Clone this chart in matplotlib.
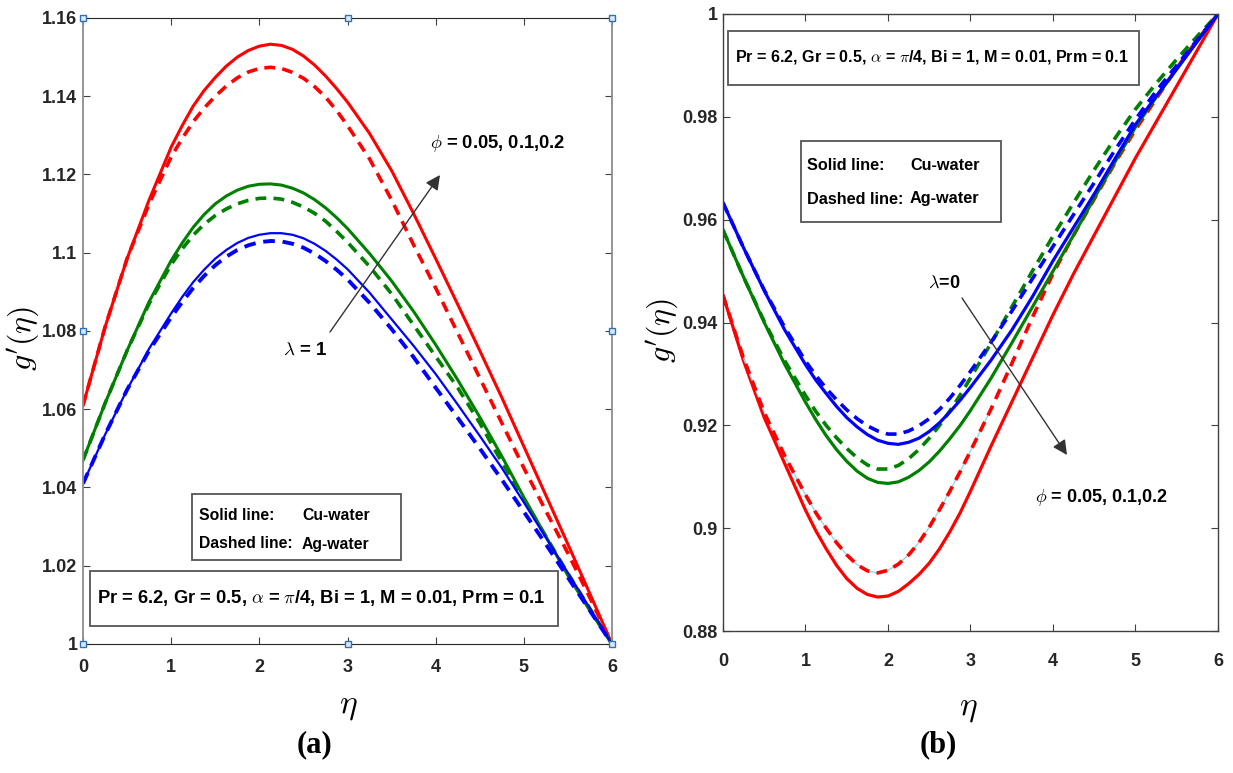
import matplotlib
matplotlib.use("Agg")
import matplotlib.pyplot as plt
from matplotlib.patches import Rectangle

# eta values shared by every curve (finer around the extrema)
eta = [0.0, 0.25, 0.5, 0.75, 1.0, 1.125, 1.25, 1.375, 1.5, 1.625, 1.75, 1.875, 2.0,
       2.125, 2.25, 2.375, 2.5, 2.625, 2.75, 2.875, 3.0, 3.25, 3.5, 3.75, 4.0,
       4.25, 4.5, 4.75, 5.0, 5.25, 5.5, 5.75, 6.0]

# (a) lambda = 1, g'(eta) for phi = 0.05 (blue), 0.1 (green), 0.2 (red)
a_red_cu = [1.061, 1.081, 1.0985, 1.1135, 1.127, 1.1325, 1.1375, 1.1415, 1.1448, 1.1477,
            1.1500, 1.1517, 1.1528, 1.1533, 1.1530, 1.1520, 1.1503, 1.1480, 1.1452,
            1.1420, 1.1385, 1.1305, 1.1210, 1.1100, 1.0985, 1.0868, 1.0750, 1.0630,
            1.0505, 1.0380, 1.0255, 1.0128, 1.0]
a_red_ag = [1.061, 1.081, 1.0985, 1.1125, 1.1245, 1.1292, 1.1335, 1.1370, 1.1400, 1.1426,
            1.1447, 1.1462, 1.1471, 1.1474, 1.1471, 1.1461, 1.1446, 1.1425, 1.1398,
            1.1364, 1.1325, 1.1240, 1.1135, 1.1020, 1.0910, 1.0795, 1.0680, 1.0565,
            1.0450, 1.0340, 1.0232, 1.0118, 1.0]
a_green_cu = [1.047, 1.0615, 1.075, 1.0875, 1.098, 1.1025, 1.1065, 1.1098, 1.1125, 1.1145,
              1.1160, 1.1170, 1.1175, 1.1176, 1.1173, 1.1165, 1.1153, 1.1136, 1.1115,
              1.1090, 1.1062, 1.0998, 1.0928, 1.0850, 1.0765, 1.0675, 1.0580, 1.0480,
              1.0375, 1.0275, 1.0175, 1.0085, 1.0]
a_green_ag = [1.047, 1.0615, 1.075, 1.087, 1.097, 1.1010, 1.1045, 1.1073, 1.1095, 1.1112,
              1.1125, 1.1134, 1.1139, 1.1140, 1.1137, 1.1129, 1.1117, 1.1101, 1.1081,
              1.1055, 1.1027, 1.0965, 1.0895, 1.0815, 1.0735, 1.0655, 1.0565, 1.0465,
              1.0370, 1.0275, 1.0180, 1.0090, 1.0]
a_blue_cu = [1.041, 1.0535, 1.065, 1.0755, 1.0845, 1.0887, 1.0925, 1.0957, 1.0985, 1.1007,
             1.1025, 1.1038, 1.1046, 1.1050, 1.1050, 1.1046, 1.1037, 1.1023, 1.1005,
             1.0983, 1.0958, 1.0898, 1.0830, 1.0762, 1.0690, 1.0612, 1.0532, 1.0450,
             1.0362, 1.0272, 1.0182, 1.0091, 1.0]
a_blue_ag = [1.041, 1.0535, 1.065, 1.075, 1.0835, 1.0874, 1.0910, 1.0941, 1.0968, 1.0990,
             1.1007, 1.1019, 1.1027, 1.1030, 1.1029, 1.1023, 1.1013, 1.0998, 1.0979,
             1.0957, 1.0932, 1.0872, 1.0805, 1.0733, 1.0655, 1.0578, 1.0500, 1.0420,
             1.0338, 1.0255, 1.0170, 1.0085, 1.0]

# (b) lambda = 0
b_red_cu = [0.9453, 0.9325, 0.9215, 0.9125, 0.9035, 0.8995, 0.8960, 0.8928, 0.8902, 0.8883,
            0.8871, 0.8866, 0.8868, 0.8877, 0.8892, 0.8910, 0.8932, 0.8960, 0.8993,
            0.9030, 0.9072, 0.9160, 0.9245, 0.9330, 0.9415, 0.9495, 0.9570, 0.9645,
            0.9720, 0.9790, 0.9860, 0.9930, 1.0]
b_red_ag = [0.9453, 0.9330, 0.9225, 0.9140, 0.9065, 0.9030, 0.9000, 0.8972, 0.8948, 0.8929,
            0.8917, 0.8913, 0.8918, 0.8930, 0.8948, 0.8972, 0.9002, 0.9036, 0.9072,
            0.9110, 0.9150, 0.9232, 0.9320, 0.9410, 0.9495, 0.9570, 0.9640, 0.9710,
            0.9775, 0.9835, 0.9895, 0.9950, 1.0]
b_green_cu = [0.9580, 0.9488, 0.9400, 0.9318, 0.9245, 0.9211, 0.9180, 0.9153, 0.9130, 0.9111,
              0.9097, 0.9089, 0.9087, 0.9090, 0.9099, 0.9112, 0.9129, 0.9150, 0.9174,
              0.9200, 0.9229, 0.9292, 0.9360, 0.9430, 0.9500, 0.9570, 0.9642, 0.9712,
              0.9780, 0.9838, 0.9893, 0.9947, 1.0]
b_green_ag = [0.9580, 0.9488, 0.9402, 0.9325, 0.9258, 0.9227, 0.9200, 0.9176, 0.9155, 0.9137,
              0.9123, 0.9115, 0.9115, 0.9122, 0.9135, 0.9153, 0.9175, 0.9200, 0.9228,
              0.9259, 0.9292, 0.9360, 0.9430, 0.9500, 0.9568, 0.9633, 0.9697, 0.9758,
              0.9815, 0.9865, 0.9912, 0.9957, 1.0]
b_blue_cu = [0.9633, 0.9545, 0.9462, 0.9385, 0.9318, 0.9288, 0.9262, 0.9237, 0.9215, 0.9197,
             0.9182, 0.9171, 0.9165, 0.9163, 0.9167, 0.9175, 0.9188, 0.9205, 0.9226,
             0.9249, 0.9274, 0.9327, 0.9385, 0.9450, 0.9520, 0.9585, 0.9650, 0.9718,
             0.9785, 0.9840, 0.9893, 0.9947, 1.0]
b_blue_ag = [0.9633, 0.9545, 0.9463, 0.9390, 0.9325, 0.9297, 0.9272, 0.9250, 0.9230, 0.9213,
             0.9199, 0.9189, 0.9183, 0.9183, 0.9189, 0.9199, 0.9213, 0.9231, 0.9253,
             0.9278, 0.9305, 0.9362, 0.9422, 0.9485, 0.9548, 0.9610, 0.9672, 0.9735,
             0.9795, 0.9850, 0.9900, 0.9950, 1.0]

x_ticks = [0, 1, 2, 3, 4, 5, 6]
a_yticks = [1.0, 1.02, 1.04, 1.06, 1.08, 1.1, 1.12, 1.14, 1.16]
a_ylabels = ["1", "1.02", "1.04", "1.06", "1.08", "1.1", "1.12", "1.14", "1.16"]
b_yticks = [0.88, 0.9, 0.92, 0.94, 0.96, 0.98, 1.0]
b_ylabels = ["0.88", "0.9", "0.92", "0.94", "0.96", "0.98", "1"]

params_text = (r"Pr = 6.2, Gr = 0.5, $\alpha$ = $\pi$/4, Bi = 1, "
               r"M = 0.01, Prm = 0.1")
phi_text = r"$\phi$ = 0.05, 0.1,0.2"

RED, GREEN, BLUE = "#ff0000", "#008000", "#0000ff"
sans = ["Liberation Sans", "DejaVu Sans"]

plt.rcParams["mathtext.fontset"] = "cm"

W, H = 1233, 773
fig = plt.figure(figsize=(W / 100, H / 100), dpi=100)


def px_axes(x0, y0, x1, y1):
    return fig.add_axes([x0 / W, 1 - y1 / H, (x1 - x0) / W, (y1 - y0) / H])


def style_axes(ax, yticks, ylabels, ylim, xpad):
    ax.set_xlim(0, 6)
    ax.set_ylim(*ylim)
    ax.set_xticks(x_ticks)
    ax.set_xticklabels([str(t) for t in x_ticks])
    ax.set_yticks(yticks)
    ax.set_yticklabels(ylabels)
    ax.tick_params(direction="in", length=5, width=0.8, top=True, right=True,
                   labelsize=13, labelcolor="#262626", color="#404040")
    ax.tick_params(axis="x", pad=xpad)
    ax.tick_params(axis="y", pad=4)
    for lab in ax.get_xticklabels() + ax.get_yticklabels():
        lab.set_family(sans)
        lab.set_fontweight("bold")


def box(ax, x0, y0, x1, y1, x_ax0, x_ax1, y_ax0, y_ax1):
    # rectangle given in figure pixels, drawn in axes fraction
    fx0 = (x0 - x_ax0) / (x_ax1 - x_ax0)
    fx1 = (x1 - x_ax0) / (x_ax1 - x_ax0)
    fy0 = (y_ax1 - y1) / (y_ax1 - y_ax0)
    fy1 = (y_ax1 - y0) / (y_ax1 - y_ax0)
    ax.add_patch(Rectangle((fx0, fy0), fx1 - fx0, fy1 - fy0, transform=ax.transAxes,
                           facecolor="white", edgecolor="#555555", lw=1.3, zorder=5))


def label(ax, px, py, s, bounds, size=11.3):
    x_ax0, x_ax1, y_ax0, y_ax1 = bounds
    ax.text((px - x_ax0) / (x_ax1 - x_ax0), (y_ax1 - py) / (y_ax1 - y_ax0), s,
            transform=ax.transAxes, ha="left", va="center", fontsize=size,
            fontweight="bold", family=sans, zorder=6)


def arrow(ax, tail, head, bounds):
    x_ax0, x_ax1, y_ax0, y_ax1 = bounds
    f = lambda p: ((p[0] - x_ax0) / (x_ax1 - x_ax0), (y_ax1 - p[1]) / (y_ax1 - y_ax0))
    ax.annotate("", xy=f(head), xytext=f(tail), xycoords="axes fraction",
                textcoords="axes fraction",
                arrowprops=dict(arrowstyle="-|>", color="#333333", lw=1.0,
                                mutation_scale=22, shrinkA=0, shrinkB=0), zorder=6)


# ---------------- panel (a) ----------------
A = (83, 612, 18, 644)
ax1 = px_axes(83, 18, 612, 644)
ax1.plot(eta, a_red_cu, color=RED, lw=2.2)
ax1.plot(eta, a_red_ag, color=RED, lw=2.6, ls=(0, (3, 2)))
ax1.plot(eta, a_green_cu, color=GREEN, lw=2.2)
ax1.plot(eta, a_green_ag, color=GREEN, lw=2.6, ls=(0, (3, 2)))
ax1.plot(eta, a_blue_cu, color=BLUE, lw=1.6)
ax1.plot(eta, a_blue_ag, color=BLUE, lw=2.8, ls=(0, (3, 2)))
style_axes(ax1, a_yticks, a_ylabels, (1.0, 1.16), 11)
for side in ("top", "bottom"):
    ax1.spines[side].set_color("#262626")
for side in ("left", "right"):
    ax1.spines[side].set_color("#8c8c8c")
    ax1.spines[side].set_linewidth(1.3)

# selection handles on the axes frame
hx = [0, 3, 6, 0, 6, 0, 3, 6]
hy = [1.16, 1.16, 1.16, 1.08, 1.08, 1.0, 1.0, 1.0]
ax1.plot(hx, hy, ls="none", marker="s", ms=5, mfc="#dceaf7", mec="#2f72b5",
         mew=1.0, clip_on=False, zorder=7)

box(ax1, 192, 494, 401, 560, *A)
label(ax1, 199, 516, "Solid line:", A)
label(ax1, 302, 516, "Cu-water", A)
label(ax1, 199, 544, "Dashed line:", A)
label(ax1, 302, 544, "Ag-water", A)
box(ax1, 90, 571, 558, 626, *A)
label(ax1, 97, 598, params_text, A, size=13.2)
label(ax1, 430, 143, phi_text, A, size=13.2)
label(ax1, 283, 350, r"$\lambda$ = 1", A, size=13.5)
arrow(ax1, (330, 332), (440, 175), A)

# ---------------- panel (b) ----------------
B = (723, 1218, 14, 631)
ax2 = px_axes(723, 14, 1218, 631)
ax2.plot(eta, b_red_cu, color=RED, lw=2.3)
ax2.plot(eta[1:22], b_red_ag[1:22], color="#8fd3f0", lw=0.9)
ax2.plot(eta, b_red_ag, color=RED, lw=2.6, ls=(0, (3, 2)))
ax2.plot(eta, b_green_cu, color=GREEN, lw=2.3)
ax2.plot(eta, b_green_ag, color=GREEN, lw=2.6, ls=(0, (3, 2)))
ax2.plot(eta, b_blue_cu, color=BLUE, lw=2.3)
ax2.plot(eta, b_blue_ag, color=BLUE, lw=2.6, ls=(0, (3, 2)))
style_axes(ax2, b_yticks, b_ylabels, (0.88, 1.0), 16)
for side in ax2.spines:
    ax2.spines[side].set_color("#404040")
    ax2.spines[side].set_linewidth(1.0)

box(ax2, 728, 31, 1139, 85, *B)
label(ax2, 735, 57, params_text, B, size=11.6)
box(ax2, 801, 141, 1001, 222, *B)
label(ax2, 807, 166, "Solid line:", B, size=11.7)
label(ax2, 910, 166, "Cu-water", B, size=11.7)
label(ax2, 807, 199, "Dashed line:", B, size=11.7)
label(ax2, 910, 199, "Ag-water", B, size=11.7)
label(ax2, 928, 283, r"$\lambda$=0", B, size=13)
label(ax2, 1035, 497, phi_text, B, size=13)
arrow(ax2, (962, 298), (1067, 455), B)

# axis titles and panel tags
for x, y in ((24, 338), (663, 330)):
    fig.text(x / W, 1 - y / H, r"$g'(\eta)$", rotation=90, fontsize=23,
             ha="center", va="center")
for x, y in ((348, 705), (968, 707)):
    fig.text(x / W, 1 - y / H, r"$\eta$", fontsize=24, ha="center", va="center")
for x, s in ((315, "(a)"), (938, "(b)")):
    fig.text(x / W, 1 - 745 / H, s, fontsize=22, fontweight="bold",
             family=["Liberation Serif", "DejaVu Serif"], ha="center", va="center")

fig.savefig("out.png", dpi=100, facecolor="white")
